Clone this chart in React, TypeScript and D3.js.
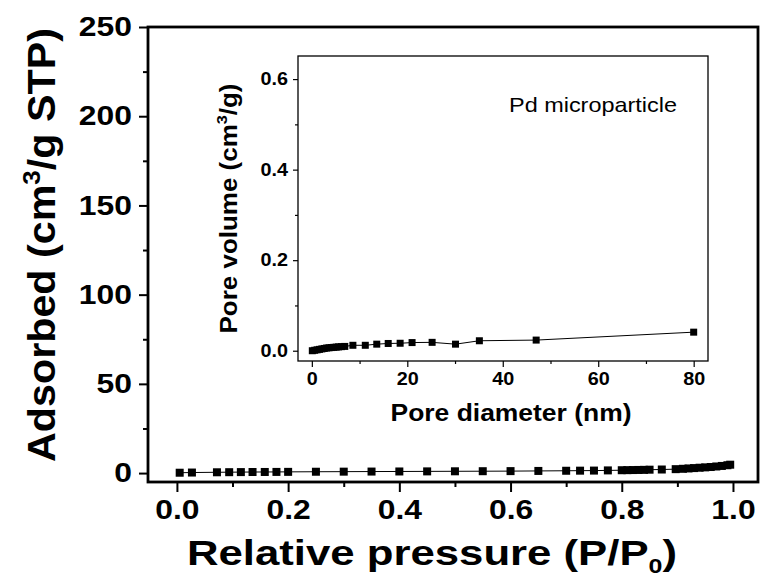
import { useEffect, useRef } from 'react';
import * as d3 from 'd3';

// main isotherm
const PRESSURE = [0.005, 0.027, 0.072, 0.094, 0.115, 0.136, 0.158, 0.179, 0.2, 0.25, 0.3, 0.35, 0.4, 0.45, 0.5, 0.55, 0.6, 0.65, 0.7, 0.725, 0.75, 0.775, 0.8, 0.81, 0.82, 0.83, 0.84, 0.85, 0.872, 0.897, 0.91, 0.92, 0.93, 0.94, 0.95, 0.96, 0.97, 0.98, 0.99, 0.995];
const ADSORBED = [0.2, 0.3, 0.45, 0.5, 0.55, 0.6, 0.62, 0.65, 0.68, 0.75, 0.8, 0.85, 0.9, 0.95, 1.0, 1.05, 1.1, 1.2, 1.3, 1.35, 1.4, 1.5, 1.6, 1.65, 1.7, 1.75, 1.8, 1.9, 2.0, 2.2, 2.4, 2.6, 2.8, 3.0, 3.2, 3.4, 3.7, 4.0, 4.4, 4.7];
const X_TICKS = [0, 0.2, 0.4, 0.6, 0.8, 1.0];
const X_MINOR = [0.1, 0.3, 0.5, 0.7, 0.9];
const Y_TICKS = [0, 50, 100, 150, 200, 250];
const Y_MINOR = [25, 75, 125, 175, 225];

// inset: pore size distribution
const DIAMETER = [0.1, 0.6, 1.1, 1.6, 2.1, 2.6, 3.1, 3.6, 4.1, 4.6, 5.1, 5.6, 6.2, 6.9, 8.6, 11.2, 13.6, 16.0, 18.5, 21.0, 25.2, 30.1, 35.1, 47.0, 80.0];
const VOLUME = [0.0, 0.001, 0.002, 0.003, 0.004, 0.005, 0.006, 0.0065, 0.007, 0.0075, 0.008, 0.0085, 0.009, 0.0095, 0.012, 0.012, 0.0145, 0.016, 0.0165, 0.018, 0.0185, 0.0145, 0.022, 0.0235, 0.041];
const IX_TICKS = [0, 20, 40, 60, 80];
const IX_MINOR = [10, 30, 50, 70];
const IY_TICKS = [0, 0.2, 0.4, 0.6];
const IY_MINOR = [0.1, 0.3, 0.5];

const FONT = 'Liberation Sans, Arial, sans-serif';

// the figure is a bit wider than tall, so widen glyphs horizontally
function stretch(sel: any, k = 1.18) {
  sel.each(function (this: any) {
    const len = this.getComputedTextLength();
    d3.select(this).attr('textLength', len * k).attr('lengthAdjust', 'spacingAndGlyphs');
  });
}

export default function App() {
  const ref = useRef<SVGSVGElement>(null);
  useEffect(() => {
    const svg = d3.select(ref.current); svg.selectAll('*').remove();
    const W = 761, H = 582;
    svg.attr('width', W).attr('height', H);
    svg.append('rect').attr('width', W).attr('height', H).attr('fill', '#fff');

    // ---- main plot
    const L = 148, R = 758, T = 27, B = 482;
    const x = d3.scaleLinear().domain([-0.052, 1.045]).range([L, R]);
    const y = d3.scaleLinear().domain([-5, 250]).range([B, T]);
    const g = svg.append('g');

    const ax = g.append('g').attr('transform', `translate(0,${B})`)
      .call(d3.axisBottom(x).tickValues(X_TICKS).tickSize(10).tickPadding(8).tickFormat(d3.format('.1f')));
    g.append('g').attr('transform', `translate(0,${B})`)
      .call(d3.axisBottom(x).tickValues(X_MINOR).tickSize(5).tickFormat(() => ''));
    const ay = g.append('g').attr('transform', `translate(${L},0)`)
      .call(d3.axisLeft(y).tickValues(Y_TICKS).tickSize(9).tickPadding(7).tickFormat(d3.format('d')));
    g.append('g').attr('transform', `translate(${L},0)`)
      .call(d3.axisLeft(y).tickValues(Y_MINOR).tickSize(5).tickFormat(() => ''));
    g.selectAll('.domain').remove();
    g.selectAll('.tick line').attr('stroke', '#000').attr('stroke-width', 2);
    [ax, ay].forEach(a => a.selectAll('text').attr('font-family', FONT).attr('font-weight', 'bold')
      .attr('font-size', 27).attr('fill', '#000'));
    stretch(ax.selectAll('text'));
    stretch(ay.selectAll('text'));

    const line = d3.line<number>().x((_, i) => x(PRESSURE[i])).y(d => y(d));
    g.append('path').attr('d', line(ADSORBED)).attr('fill', 'none').attr('stroke', '#000').attr('stroke-width', 1);
    g.append('g').selectAll('rect').data(ADSORBED).join('rect')
      .attr('x', (_, i) => x(PRESSURE[i]) - 4).attr('y', d => y(d) - 4)
      .attr('width', 8).attr('height', 8).attr('fill', '#000');

    g.append('rect').attr('x', L).attr('y', T).attr('width', R - L).attr('height', B - T)
      .attr('fill', 'none').attr('stroke', '#000').attr('stroke-width', 2.8);

    const xl = svg.append('text').attr('x', 432).attr('y', 565).attr('text-anchor', 'middle')
      .attr('font-family', FONT).attr('font-weight', 'bold').attr('font-size', 35);
    xl.append('tspan').text('Relative pressure (P/P');
    xl.append('tspan').attr('font-size', 20).attr('dy', 8).text('0');
    xl.append('tspan').attr('dy', -8).text(')');
    xl.attr('textLength', 490).attr('lengthAdjust', 'spacingAndGlyphs');

    const yl = svg.append('text').attr('transform', `translate(55,${(T + 463) / 2}) rotate(-90)`)
      .attr('text-anchor', 'middle').attr('font-family', FONT).attr('font-weight', 'bold').attr('font-size', 38);
    yl.append('tspan').text('Adsorbed (cm');
    yl.append('tspan').attr('font-size', 24).attr('dy', -15).text('3');
    yl.append('tspan').attr('dy', 15).text('/g STP)');
    yl.attr('textLength', 434).attr('lengthAdjust', 'spacingAndGlyphs');

    // ---- inset
    const iL = 298, iR = 708, iT = 56, iB = 361;
    const ix = d3.scaleLinear().domain([-2.9, 83]).range([iL, iR]);
    const iy = d3.scaleLinear().domain([-0.0227, 0.651]).range([iB, iT]);
    const ig = svg.append('g');
    const iax = ig.append('g').attr('transform', `translate(0,${iB})`)
      .call(d3.axisBottom(ix).tickValues(IX_TICKS).tickSize(6).tickPadding(5).tickFormat(d3.format('d')));
    ig.append('g').attr('transform', `translate(0,${iB})`)
      .call(d3.axisBottom(ix).tickValues(IX_MINOR).tickSize(3).tickFormat(() => ''));
    const iay = ig.append('g').attr('transform', `translate(${iL},0)`)
      .call(d3.axisLeft(iy).tickValues(IY_TICKS).tickSize(5).tickPadding(5).tickFormat(d3.format('.1f')));
    ig.append('g').attr('transform', `translate(${iL},0)`)
      .call(d3.axisLeft(iy).tickValues(IY_MINOR).tickSize(3).tickFormat(() => ''));
    ig.selectAll('.domain').remove();
    ig.selectAll('.tick line').attr('stroke', '#000').attr('stroke-width', 1.2);
    [iax, iay].forEach(a => a.selectAll('text').attr('font-family', FONT).attr('font-weight', 'bold')
      .attr('font-size', 18).attr('fill', '#000'));
    stretch(iax.selectAll('text'), 1.1);
    stretch(iay.selectAll('text'), 1.1);

    const iline = d3.line<number>().x((_, i) => ix(DIAMETER[i])).y(d => iy(d));
    ig.append('path').attr('d', iline(VOLUME)).attr('fill', 'none').attr('stroke', '#000').attr('stroke-width', 1);
    ig.append('g').selectAll('rect').data(VOLUME).join('rect')
      .attr('x', (_, i) => ix(DIAMETER[i]) - 3.5).attr('y', d => iy(d) - 3.5)
      .attr('width', 7).attr('height', 7).attr('fill', '#000');
    ig.append('rect').attr('x', iL).attr('y', iT).attr('width', iR - iL).attr('height', iB - iT)
      .attr('fill', 'none').attr('stroke', '#000').attr('stroke-width', 1.3);

    svg.append('text').attr('x', 511).attr('y', 421).attr('text-anchor', 'middle')
      .attr('font-family', FONT).attr('font-weight', 'bold').attr('font-size', 24).text('Pore diameter (nm)')
      .attr('textLength', 241).attr('lengthAdjust', 'spacingAndGlyphs');

    const iyl = svg.append('text').attr('transform', `translate(237,${(iT + iB) / 2}) rotate(-90)`)
      .attr('text-anchor', 'middle').attr('font-family', FONT).attr('font-weight', 'bold').attr('font-size', 24);
    iyl.append('tspan').text('Pore volume (cm');
    iyl.append('tspan').attr('font-size', 15).attr('dy', -10).text('3');
    iyl.append('tspan').attr('dy', 10).text('/g)');
    iyl.attr('textLength', 250).attr('lengthAdjust', 'spacingAndGlyphs');

    svg.append('text').attr('x', 509).attr('y', 112)
      .attr('font-family', FONT).attr('font-size', 21).text('Pd microparticle')
      .attr('textLength', 168).attr('lengthAdjust', 'spacingAndGlyphs');
  }, []);
  return <svg ref={ref} style={{ position: 'absolute', left: 0, top: 0 }} />;
}
